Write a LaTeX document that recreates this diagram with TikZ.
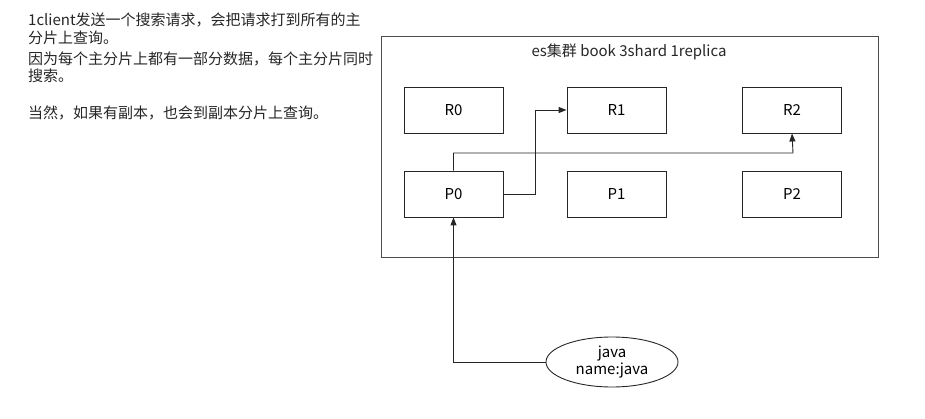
\documentclass[tikz,border=0pt]{standalone}
\usepackage{fontspec}
\setmainfont{Noto Sans CJK SC}
\usetikzlibrary{arrows.meta,shapes.geometric}
\begin{document}
\begin{tikzpicture}[x=1pt,y=-1pt,
  shard/.style={draw=black!85,line width=0.9pt,minimum width=99pt,minimum height=46pt,inner sep=0pt,font=\fontsize{15}{17}\selectfont},
  conn/.style={draw=black!85,line width=0.9pt,-{Triangle[length=8pt,width=6pt]}},
  note/.style={anchor=west,inner sep=0pt,font=\fontsize{15}{17}\selectfont,text=black!85}]
\useasboundingbox (0,0) rectangle (925,419);
\node[draw=black!70,line width=0.9pt,minimum width=497pt,minimum height=221pt,inner sep=0pt] (cluster) at (629.5,146.5) {};
\node[font=\fontsize{15}{17}\selectfont,text=black!85] (title) at (629,52) {es集群 book 3shard 1replica};
\node[shard] (R0) at (453.5,110) {R0};
\node[shard] (R1) at (616.5,110) {R1};
\node[shard] (R2) at (792,110) {R2};
\node[shard] (P0) at (453.5,194) {P0};
\node[shard] (P1) at (616.5,194) {P1};
\node[shard] (P2) at (792,194) {P2};
\node[draw=black!85,line width=0.9pt,ellipse,minimum width=132pt,minimum height=50pt,inner sep=0pt,align=center,font=\fontsize{15}{17}\selectfont] (java) at (612,362) {java\\name:java};
\draw[conn] (P0.east) -| (535,110) -- (R1.west);
\draw[conn] (P0.north) |- (793,153) -- (R2.south);
\draw[conn] (java.west) -| (P0.south);
\node[note] (l1) at (28,20) {1client发送一个搜索请求，会把请求打到所有的主};
\node[note] (l2) at (28,38) {分片上查询。};
\node[note] (l3) at (28,59) {因为每个主分片上都有一部分数据，每个主分片同时};
\node[note] (l4) at (28,76) {搜索。};
\node[note] (l5) at (28,113) {当然，如果有副本，也会到副本分片上查询。};
\end{tikzpicture}
\end{document}
